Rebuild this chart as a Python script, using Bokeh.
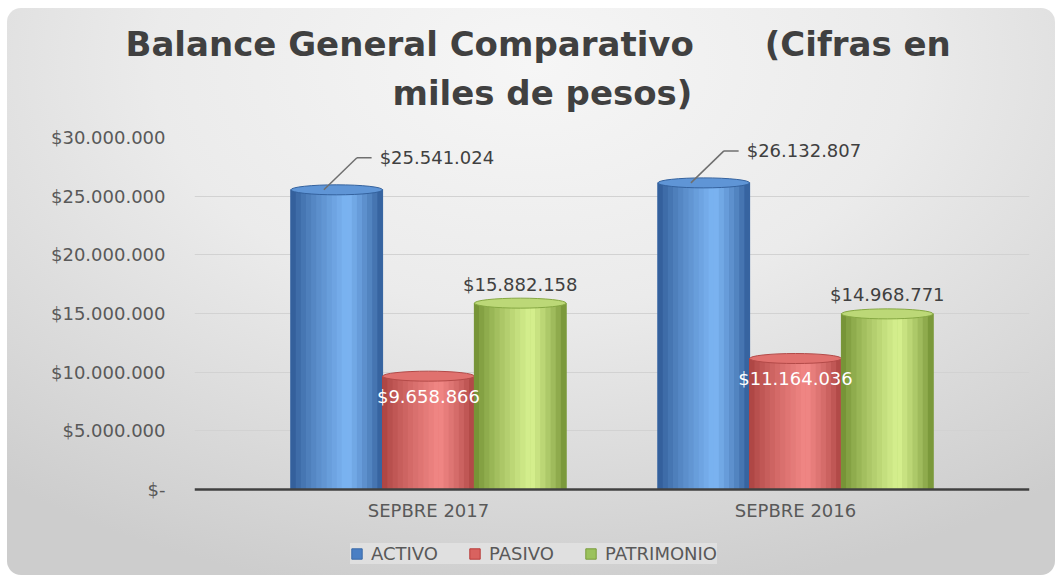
from bokeh.plotting import figure
from bokeh.models import (FactorRange, Range1d, Title, Legend, LegendItem,
                          ColumnDataSource, FixedTicker, Span)
from bokeh.transform import dodge
from bokeh.embed import file_html
from bokeh.resources import INLINE
from bokeh.core.properties import value

# ---------------- data ----------------
categories = ["SEPBRE 2017", "SEPBRE 2016"]
series_names = ["ACTIVO", "PASIVO", "PATRIMONIO"]
activo = [25541024, 26132807]
pasivo = [9658866, 11164036]
patrimonio = [15882158, 14968771]
y_ticks = [0, 5000000, 10000000, 15000000, 20000000, 25000000, 30000000]
y_tick_labels = ["$-", "$5.000.000", "$10.000.000", "$15.000.000",
                 "$20.000.000", "$25.000.000", "$30.000.000"]
title_line1 = "Balance General Comparativo" + "\u00a0" * 6 + "(Cifras en"
title_line2 = "miles de pesos)"


def money(v):
    return "$" + f"{v:,}".replace(",", ".")


# ---------------- styling helpers ----------------
def hex2rgb(h):
    h = h.lstrip("#")
    return tuple(int(h[i:i + 2], 16) for i in (0, 2, 4))


def mix(c1, c2, t):
    a, b = hex2rgb(c1), hex2rgb(c2)
    return "#%02x%02x%02x" % tuple(int(round(a[i] + (b[i] - a[i]) * t)) for i in range(3))


def cyl(dark, light, t, peak=0.62):
    f = t / peak if t < peak else (1 - t) / (1 - peak)
    f = max(0.0, min(1.0, f)) ** 0.75
    return mix(dark, light, f)


styles = {
    "ACTIVO": dict(col="activo", off=-0.25, dark="#2c5792", light="#7db6f4",
                   mid="#4a7fc4", top="#5f95d6", edge="#34629e", lline="#3a6aa8"),
    "PASIVO": dict(col="pasivo", off=0.0, dark="#a8403e", light="#f28886",
                   mid="#d9625f", top="#e0716e", edge="#b34a48", lline="#b83c3a"),
    "PATRIMONIO": dict(col="patrimonio", off=0.25, dark="#6c8a2d", light="#d8f290",
                       mid="#9bc25c", top="#bcd877", edge="#86a843", lline="#7a9c3c"),
}

BW = 0.25
NSL = 18

# geometry of the plotting frame (pixels)
W, H = 1048, 567
FRAME_TOP = 129
AXIS_Y = 481              # pixel row of the value 0
VALUE_PX = 352            # pixels spanned by 0 .. 30.000.000
Y_MAX = 30000000
units_per_px = Y_MAX / VALUE_PX
y_start = -(H - AXIS_Y) * units_per_px
lead_px = 32

src = ColumnDataSource(dict(
    cat=categories,
    activo=activo,
    pasivo=pasivo,
    patrimonio=patrimonio,
    activo_lbl=[money(v) for v in activo],
    pasivo_lbl=[money(v) for v in pasivo],
    patrimonio_lbl=[money(v) for v in patrimonio],
    lead_y=[v + lead_px * units_per_px for v in activo],
))

p = figure(x_range=FactorRange(*categories, range_padding=0.1375),
           y_range=Range1d(y_start, Y_MAX),
           width=W, height=H, title=None, x_axis_location=None,
           output_backend="svg", toolbar_location=None,
           min_border_left=187, min_border_right=26,
           min_border_top=FRAME_TOP, min_border_bottom=0)

p.styles = {
    "margin-left": "7px",
    "margin-top": "8px",
    "border-radius": "14px",
    "background": "radial-gradient(ellipse 80% 95% at 50% 10%, #f6f6f6 0%, #ebebeb 45%, #d8d8d8 80%, #cdcdcd 100%)",
}
p.border_fill_alpha = 0
p.background_fill_alpha = 0
p.outline_line_color = None

# titles (second line first -> nearest to plot)
p.add_layout(Title(text=title_line2, align="left", offset=198, text_font="DejaVu Sans",
                   text_font_size="34px", text_font_style="bold",
                   text_color="#404040", standoff=50), "above")
p.add_layout(Title(text=title_line1, align="left", offset=-69, text_font="DejaVu Sans",
                   text_font_size="34px", text_font_style="bold",
                   text_color="#404040", standoff=-36), "above")

# y axis
p.yaxis.ticker = FixedTicker(ticks=y_ticks)
p.yaxis.major_label_overrides = dict(zip(y_ticks, y_tick_labels))
p.yaxis.axis_line_color = None
p.yaxis.major_tick_line_color = None
p.yaxis.minor_tick_line_color = None
p.yaxis.major_label_standoff = 23
p.yaxis.major_label_text_font = "DejaVu Sans"
p.yaxis.major_label_text_font_size = "18px"
p.yaxis.major_label_text_color = "#595959"

p.xgrid.grid_line_color = None
p.ygrid.ticker = FixedTicker(ticks=y_ticks)
p.ygrid.grid_line_color = "#d2d2d2"
p.ygrid.grid_line_width = 1

# cylinders
legend_items = []
for name in series_names:
    s = styles[name]
    base = p.vbar(x=dodge("cat", s["off"], range=p.x_range), top=s["col"], width=BW,
                  fill_color=s["mid"], line_color=s["lline"], line_width=1, source=src)
    legend_items.append(LegendItem(label=name, renderers=[base]))
    for j in range(NSL):
        t = (j + 0.5) / NSL
        o = s["off"] - BW / 2 + t * BW
        p.vbar(x=dodge("cat", o, range=p.x_range), top=s["col"], width=BW / NSL * 1.08,
               fill_color=cyl(s["dark"], s["light"], t), line_color=None, source=src)
    p.ellipse(x=dodge("cat", s["off"], range=p.x_range), y=s["col"], width=BW,
              height=10, height_units="screen", fill_color=s["top"],
              line_color=s["edge"], line_width=1, source=src)

# category axis (baseline + labels)
p.add_layout(Span(location=0, dimension="width", line_color="#404040", line_width=2.5))
p.text(x="cat", y=0, text="cat", y_offset=21, text_align="center",
       text_baseline="middle", text_font=value("DejaVu Sans"), text_font_size="18px",
       text_color="#595959", source=src)

# data labels
lbl_font = value("DejaVu Sans")
p.segment(x0=dodge("cat", -0.25 - 0.035, range=p.x_range), y0="activo",
          x1=dodge("cat", -0.25 + 0.055, range=p.x_range), y1="lead_y",
          line_color="#6f6f6f", line_width=1.5, source=src)
p.segment(x0=dodge("cat", -0.25 + 0.055, range=p.x_range), y0="lead_y",
          x1=dodge("cat", -0.25 + 0.095, range=p.x_range), y1="lead_y",
          line_color="#6f6f6f", line_width=1.5, source=src)
p.text(x=dodge("cat", -0.25 + 0.117, range=p.x_range), y="lead_y", text="activo_lbl",
       text_align="left", text_baseline="middle", text_font=lbl_font,
       text_font_size="18px", text_color="#404040", source=src)
p.text(x=dodge("cat", 0.25, range=p.x_range), y="patrimonio", text="patrimonio_lbl",
       y_offset=-19, text_align="center", text_baseline="middle", text_font=lbl_font,
       text_font_size="18px", text_color="#404040", source=src)
p.text(x=dodge("cat", 0.0, range=p.x_range), y="pasivo", text="pasivo_lbl",
       y_offset=20, text_align="center", text_baseline="middle", text_font=lbl_font,
       text_font_size="18px", text_color="#ffffff", source=src)

legend = Legend(items=legend_items, orientation="horizontal", location=(156, 11),
                label_text_font="DejaVu Sans", label_text_font_size="18px",
                label_text_color="#595959", glyph_width=13, glyph_height=13,
                label_standoff=8, spacing=30, padding=8, margin=0,
                label_height=18,
                background_fill_color="#e4e4e4", background_fill_alpha=0.75,
                border_line_color=None)
p.add_layout(legend)

open("out.html", "w").write(file_html(p, INLINE))
